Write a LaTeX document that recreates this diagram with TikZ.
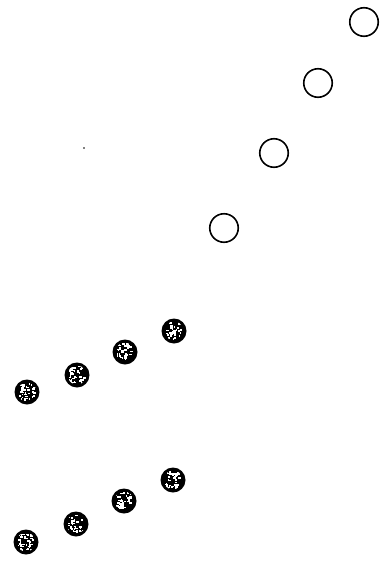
\documentclass[tikz,border=0pt]{standalone}
\begin{document}
\begin{tikzpicture}[x=1pt,y=-1pt,
  ring/.style={draw=black,line width=1.6pt,fill=white,circle,minimum size=28.5pt,inner sep=0pt},
  coin/.style={fill=black,circle,minimum size=25pt,inner sep=0pt},
  speck/.style={fill=black,circle,minimum size=1.8pt,inner sep=0pt}]
\useasboundingbox[fill=white] (0,0) rectangle (382,573);
\node[ring] (c1) at (364,22) {};
\node[ring] (c2) at (318,83) {};
\node[ring] (c3) at (274,153) {};
\node[ring] (c4) at (224,228) {};
\node[speck] (s1) at (84,148) {};
\foreach \n/\x/\y in {a1/27/392,a2/77/375,a3/125/352,a4/174/331,b1/26/542,b2/76/524,b3/124/501,b4/173/480}{
  \node[coin] (\n) at (\x,\y) {};
  \begin{scope}
    \clip (\x,\y) circle (9.5);
    \pgfmathsetseed{\x*7+\y}
    \foreach \k in {1,...,40}{
      \pgfmathsetmacro\dx{rand*7.5-1}
      \pgfmathsetmacro\dy{rand*8.5-1}
      \pgfmathsetmacro\w{0.8+rnd*2.4}
      \pgfmathsetmacro\h{0.8+rnd*1.8}
      \fill[white] (\x+\dx,\y+\dy) rectangle ++(\w,\h);
    }
  \end{scope}
}
\end{tikzpicture}
\end{document}
